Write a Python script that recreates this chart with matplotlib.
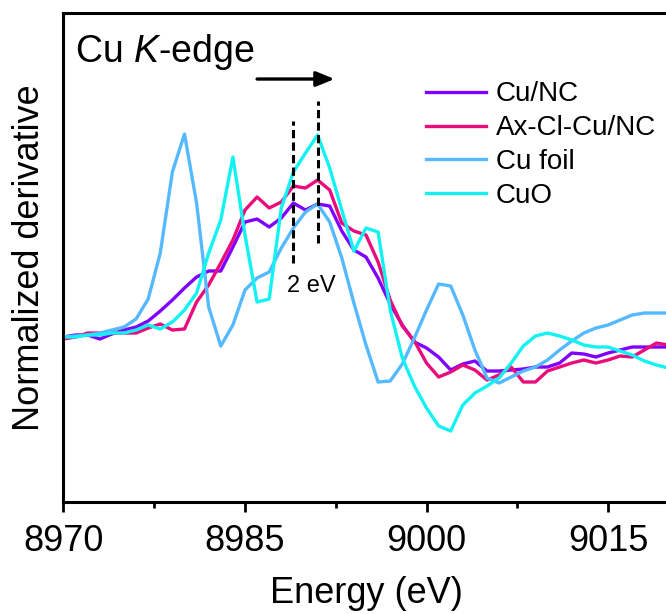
import numpy as np
import matplotlib
matplotlib.use("Agg")
import matplotlib.pyplot as plt

plt.rcParams['font.family'] = ['Liberation Sans', 'DejaVu Sans']
plt.rcParams['mathtext.fontset'] = 'custom'
plt.rcParams['mathtext.rm'] = 'Liberation Sans'
plt.rcParams['mathtext.it'] = 'Liberation Sans:italic'

# Energy grid (eV) and first-derivative XANES spectra
energy = np.arange(8970, 9021, 1)

cu_nc = [0.00, 0.02, 0.02, -0.02, 0.03, 0.07, 0.10, 0.16, 0.26, 0.37, 0.49,
         0.60, 0.66, 0.66, 0.90, 1.15, 1.18, 1.10, 1.19, 1.34, 1.27,
         1.33, 1.31, 1.06, 0.87, 0.80, 0.59, 0.33, 0.12, -0.05, -0.11,
         -0.20, -0.33, -0.27, -0.24, -0.34, -0.34, -0.33, -0.32, -0.30, -0.30,
         -0.26, -0.16, -0.17, -0.20, -0.16, -0.13, -0.10, -0.10, -0.10, -0.10]

ax_cl_cu_nc = [-0.02, 0.00, 0.04, 0.04, 0.04, 0.04, 0.04, 0.09, 0.13, 0.07, 0.08,
               0.35, 0.52, 0.74, 0.97, 1.27, 1.40, 1.29, 1.35, 1.51, 1.49,
               1.57, 1.47, 1.14, 1.06, 1.02, 0.75, 0.37, 0.11, -0.04, -0.26,
               -0.40, -0.35, -0.28, -0.33, -0.43, -0.38, -0.30, -0.45, -0.45, -0.34,
               -0.30, -0.26, -0.23, -0.26, -0.23, -0.19, -0.20, -0.13, -0.06, -0.08]

cu_foil = [0.00, 0.01, 0.02, 0.04, 0.07, 0.10, 0.18, 0.38, 0.84, 1.65, 2.03,
           1.34, 0.30, -0.09, 0.12, 0.47, 0.59, 0.65, 0.89, 1.09, 1.25,
           1.33, 1.15, 0.79, 0.34, -0.08, -0.45, -0.44, -0.27, -0.01, 0.27,
           0.53, 0.51, 0.22, -0.13, -0.41, -0.46, -0.40, -0.34, -0.30, -0.23,
           -0.13, -0.04, 0.04, 0.09, 0.12, 0.17, 0.22, 0.24, 0.24, 0.24]

cuo = [0.00, 0.00, 0.02, 0.02, 0.04, 0.04, 0.07, 0.12, 0.08, 0.15, 0.27,
       0.44, 0.84, 1.17, 1.80, 1.02, 0.35, 0.38, 1.29, 1.65, 1.84,
       2.02, 1.69, 1.27, 0.86, 1.09, 1.05, 0.27, -0.21, -0.49, -0.71,
       -0.89, -0.94, -0.68, -0.56, -0.49, -0.41, -0.26, -0.09, 0.01, 0.04,
       0.01, -0.03, -0.08, -0.10, -0.10, -0.14, -0.18, -0.24, -0.28, -0.31]

labels = ["Cu/NC", "Ax-Cl-Cu/NC", "Cu foil", "CuO"]
colors = ["#8000FF", "#EB0C7C", "#55B9FF", "#12F2F2"]
series = [cu_nc, ax_cl_cu_nc, cu_foil, cuo]

xticks = [8970, 8985, 9000, 9015]
edge_shift = [8989, 8991]   # edge positions marked by dashed lines

fig = plt.figure(figsize=(6.66, 6.14), dpi=100)
ax = fig.add_axes([0.0953, 0.1824, 0.9085, 0.7964])

for y, lab, c in zip(series, labels, colors):
    ax.plot(energy, y, color=c, lw=2.4, label=lab)

ax.set_xlim(8970, 9020)
ax.set_ylim(-1.65, 3.24)
ax.set_xticks(xticks)
ax.set_xticks([8977.5, 8992.5, 9007.5], minor=True)
ax.set_yticks([])
ax.tick_params(axis='x', which='major', length=7, width=2, labelsize=26, pad=9, direction='out')
ax.tick_params(axis='x', which='minor', length=4, width=2, direction='out')
for sp in ax.spines.values():
    sp.set_linewidth(2.2)

ax.set_xlabel("Energy (eV)", fontsize=26, labelpad=12)
ax.set_ylabel("Normalized derivative", fontsize=26, labelpad=12)

# edge-shift markers
ax.plot([edge_shift[0]] * 2, [0.74, 2.16], color='black', lw=2.2, ls=(0, (2.7, 1.4)))
ax.plot([edge_shift[1]] * 2, [0.94, 2.36], color='black', lw=2.2, ls=(0, (2.7, 1.4)))
ax.annotate("", xy=(8992.4, 2.58), xytext=(8986.0, 2.58),
            arrowprops=dict(arrowstyle="-|>,head_length=1.1,head_width=0.45",
                            color='black', lw=2.4, shrinkA=0, shrinkB=0))
ax.text(8990.5, 0.45, "2 eV", fontsize=17, ha='center', va='baseline')

ax.text(0.019, 0.9004, r"Cu $\it{K}$-edge", transform=ax.transAxes,
        fontsize=27, ha='left', va='baseline')

ax.legend(loc='upper left', bbox_to_anchor=(0.599, 0.860), frameon=False,
          fontsize=20, handlelength=2.16, handletextpad=0.35,
          labelspacing=0.28, borderpad=0, borderaxespad=0)

fig.savefig("out.png", dpi=100)
